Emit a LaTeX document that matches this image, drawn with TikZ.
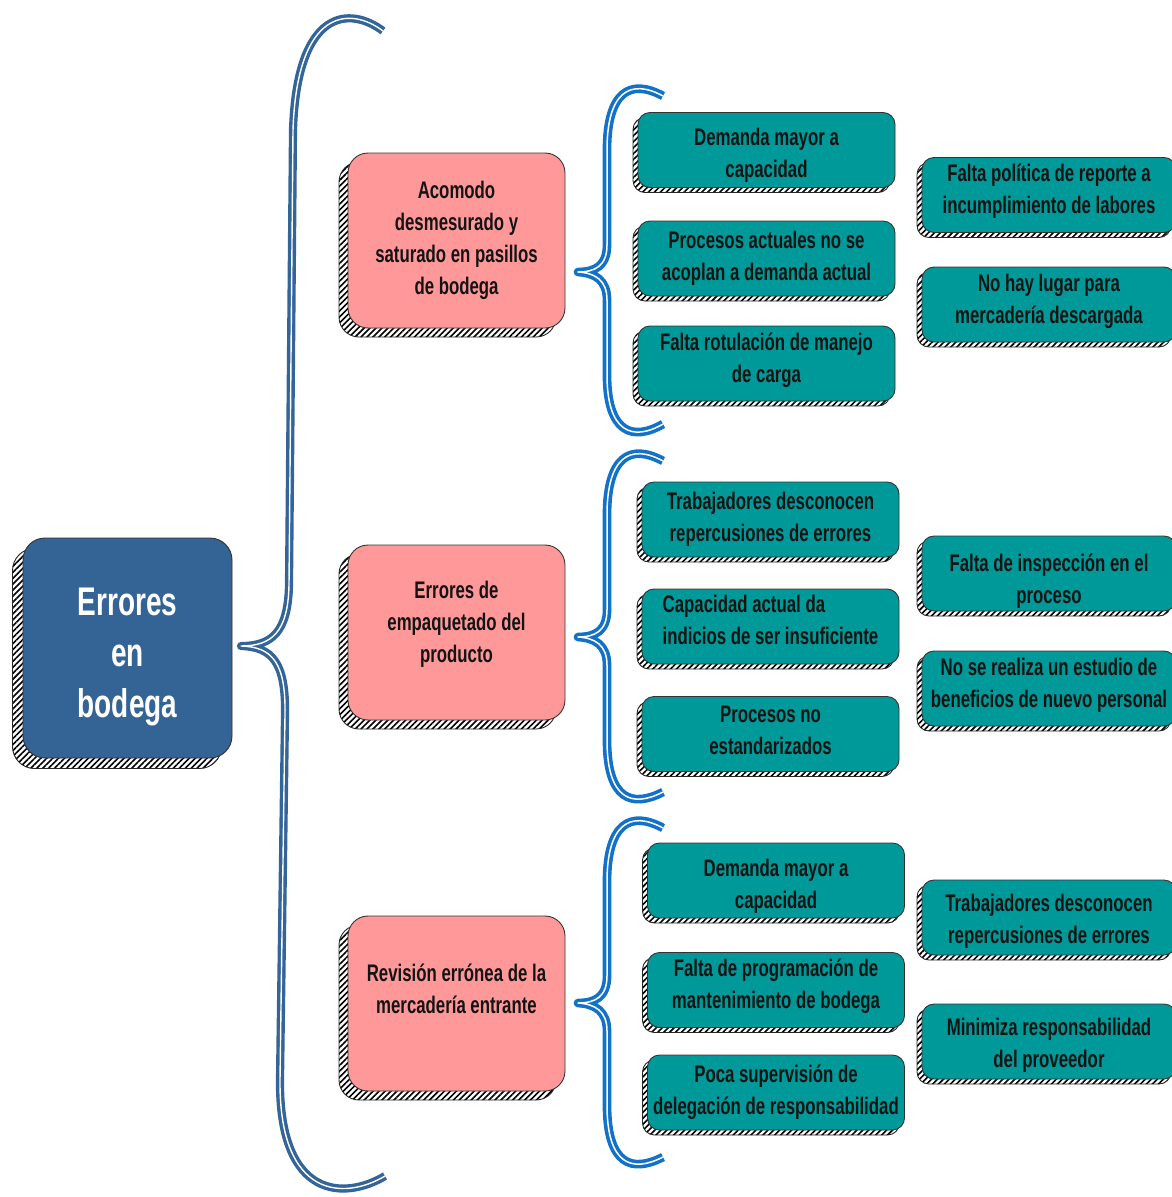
\documentclass[tikz,border=0pt]{standalone}
\usepackage{fontspec}
\setmainfont{Liberation Sans}[FakeStretch=0.70]
\usetikzlibrary{shadows,patterns.meta}

\definecolor{rootblue}{RGB}{52,99,149}
\definecolor{bracesteel}{RGB}{52,101,153}
\definecolor{bracebright}{RGB}{18,114,200}
\definecolor{causepink}{RGB}{255,153,153}
\definecolor{leafteal}{RGB}{0,153,153}
\definecolor{inkdark}{RGB}{20,20,20}

\tikzset{
  hatchshadow/.style={general shadow={shadow xshift=-#1pt,shadow yshift=-#1pt,
      draw=black!85,line width=0.9pt,
      pattern={Lines[angle=45,distance=4.2pt,line width=1.6pt]},pattern color=black}},
  basebox/.style={draw=black!80,line width=0.9pt,align=center,inner sep=0pt,
      text=inkdark,font=\fontsize{24}{32}\selectfont\bfseries},
  rootbox/.style={basebox,fill=rootblue,rounded corners=22pt,hatchshadow=10.5,
      text=white,font=\fontsize{40}{51}\selectfont\bfseries,
      minimum width=209pt,minimum height=220pt},
  causebox/.style={basebox,fill=causepink,rounded corners=20pt,hatchshadow=9,
      minimum width=217pt,minimum height=175pt},
  leafbox/.style={basebox,fill=leafteal,rounded corners=12pt,hatchshadow=5,
      minimum width=257pt,minimum height=75pt},
  sidebox/.style={leafbox,minimum width=254pt},
  bigbrace/.style={draw=bracesteel,double=white,line width=3.4pt,
      double distance=1.4pt,line join=round},
  smallbrace/.style={draw=bracebright,double=white,line width=3.6pt,
      double distance=1.5pt,line join=round},
}
% empty rows before (\lead) or after (\trail) a text nudge it down or up
\newcommand\lead[1]{\mbox{}\\[#1]}
\newcommand\trail[1]{\\[#1]\mbox{}}

\begin{document}
\begin{tikzpicture}[x=1pt,y=-1pt]
\useasboundingbox (0,0) rectangle (1172,1197);
\clip (0,0) rectangle (1172,1197);

% main topic
\node[rootbox] (root) at (127.5,648) {\lead{-6pt}Errores\\en\\bodega};

% large brace from the main topic to the three causes
\coordinate (rtip) at (241,646);
\draw[bigbrace] (383,31) .. controls (350,6) and (297,8) .. (293,130)
  -- (289,585) .. controls (288,632) and (272,646) .. (rtip)
  .. controls (272,647) and (286,662) .. (285,715)
  -- (280,1080) .. controls (279,1200) and (345,1200) .. (385,1176);

% causes
\node[causebox] (c1) at (456.5,240.5) {Acomodo\\desmesurado y\\saturado en pasillos\\de bodega};
\node[causebox] (c2) at (456.5,632.5) {Errores de\\empaquetado del\\producto\trail{-11pt}};
\node[causebox] (c3) at (456.5,1003.5) {Revisión errónea de la\\mercadería entrante\trail{-3pt}};

% small braces from each cause
\coordinate (t1) at (578,272);
\draw[smallbrace] (663,96) .. controls (630,78) and (607,92) .. (607,150)
  -- (607,245) .. controls (607,266) and (595,272) .. (t1)
  .. controls (595,273) and (607,280) .. (607,300)
  -- (607,375) .. controls (607,432) and (632,442) .. (663,424);
\coordinate (t2) at (578,637);
\draw[smallbrace] (663,461) .. controls (630,443) and (607,457) .. (607,515)
  -- (607,610) .. controls (607,631) and (595,637) .. (t2)
  .. controls (595,638) and (607,645) .. (607,665)
  -- (607,740) .. controls (607,800) and (632,808) .. (663,792);
\coordinate (t3) at (578,1003);
\draw[smallbrace] (663,828) .. controls (630,810) and (607,824) .. (607,882)
  -- (607,976) .. controls (607,997) and (595,1003) .. (t3)
  .. controls (595,1004) and (607,1011) .. (607,1031)
  -- (607,1105) .. controls (607,1165) and (632,1173) .. (663,1157);

% sub-causes of the first cause
\node[leafbox] (l11) at (766.5,150) {\lead{-4.5pt}Demanda mayor a\\capacidad};
\node[leafbox] (l12) at (766.5,258.5) {Procesos actuales no se\\acoplan a demanda actual};
\node[leafbox] (l13) at (766.5,363.5) {Falta rotulación de manejo\\de carga\trail{-20pt}};

% sub-causes of the second cause
\node[leafbox] (l21) at (770.5,519.5) {Trabajadores desconocen\\repercusiones de errores};
\node[leafbox,align=left] (l22) at (770.5,626.5) {Capacidad actual da\\indicios de ser insuficiente\trail{-18pt}};
\node[leafbox] (l23) at (770.5,734) {Procesos no\\estandarizados\trail{-24pt}};

% sub-causes of the third cause
\node[leafbox] (l31) at (776,880.5) {\lead{-2.5pt}Demanda mayor a\\capacidad};
\node[leafbox] (l32) at (776,990) {Falta de programación de\\mantenimiento de bodega\trail{-20pt}};
\node[leafbox] (l33) at (776,1092.5) {Poca supervisión de\\delegación de responsabilidad};

% further causes on the right
\node[sidebox] (s1) at (1049,195) {Falta política de reporte a\\incumplimiento de labores\trail{-20pt}};
\node[sidebox] (s2) at (1049,304.5) {No hay lugar para\\mercadería descargada\trail{-20pt}};
\node[sidebox] (s3) at (1049,573.5) {\lead{0pt}Falta de inspección en el\\proceso};
\node[sidebox] (s4) at (1049,688.5) {No se realiza un estudio de\\beneficios de nuevo personal\trail{-20pt}};
\node[sidebox] (s5) at (1049,917.5) {\lead{-6.5pt}Trabajadores desconocen\\repercusiones de errores};
\node[sidebox] (s6) at (1049,1041.5) {\lead{-6.5pt}Minimiza responsabilidad\\del proveedor};
\end{tikzpicture}
\end{document}
